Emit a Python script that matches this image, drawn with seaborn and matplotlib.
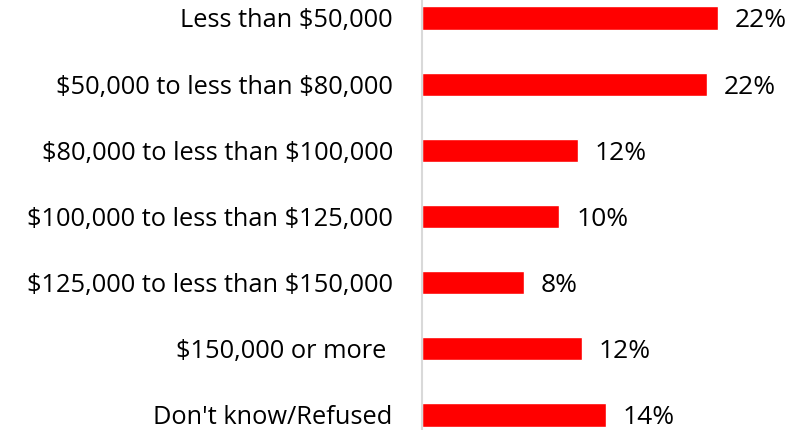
import matplotlib
matplotlib.use("Agg")
import matplotlib.pyplot as plt
import seaborn as sns
import pandas as pd

# Data
categories = [
    "Less than $50,000",
    "$50,000 to less than $80,000",
    "$80,000 to less than $100,000",
    "$100,000 to less than $125,000",
    "$125,000 to less than $150,000",
    "$150,000 or more ",
    "Don't know/Refused",
]
shares = [22.4, 21.6, 11.8, 10.4, 7.7, 12.1, 13.9]

df = pd.DataFrame({"category": categories, "share": shares})

sns.set_style("white")
plt.rcParams["font.family"] = ["Open Sans", "DejaVu Sans"]
plt.rcParams["text.parse_math"] = False  # keep the dollar signs literal

fig = plt.figure(figsize=(8.06, 4.30), dpi=100)
ax = fig.add_axes([422 / 806, 0, 370 / 806, 1])

sns.barplot(data=df, x="share", y="category", color="#FF0000",
            width=0.35, saturation=1, ax=ax)

# percentage labels next to each bar
for patch, v in zip(ax.patches, shares):
    ax.annotate(f"{v:.0f}%", (patch.get_width(), patch.get_y() + patch.get_height() / 2),
                xytext=(12, 0), textcoords="offset points",
                ha="left", va="center_baseline", fontsize=19, color="black")

ax.set_xlim(0, 28)
ax.set_ylim(6.227, -0.272)
ax.set_xlabel("")
ax.set_ylabel("")
ax.set_xticks([])
ax.tick_params(axis="y", length=0, pad=21, labelsize=18.3, labelcolor="black")

for side in ["top", "right", "bottom"]:
    ax.spines[side].set_visible(False)
ax.spines["left"].set_color("#d9d9d9")
ax.spines["left"].set_linewidth(1.5)

fig.savefig("out.png", dpi=100)
